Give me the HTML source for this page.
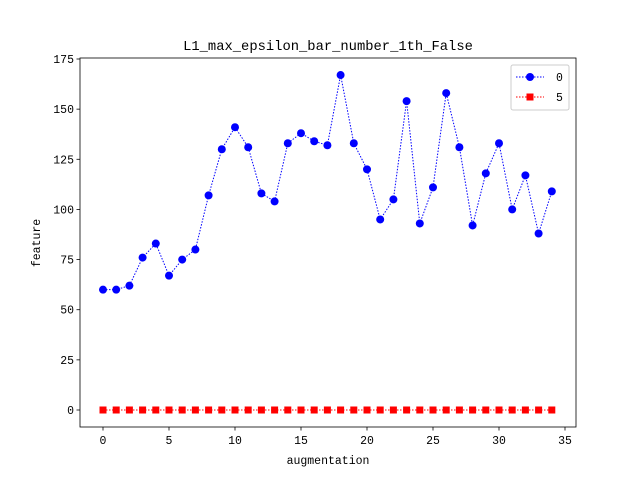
<!DOCTYPE html>
<html><head><meta charset="utf-8"><style>body{margin:0;background:#fff}svg text{font-family:"Liberation Mono","WenQuanYi Zen Hei",monospace}</style></head>
<body>
<svg id="c" width="640" height="480" xmlns="http://www.w3.org/2000/svg"></svg>
<script>
const categories=[...Array(35).keys()];
const series0=[60,60,62,76,83,67,75,80,107,130,141,131,108,104,133,138,134,132,167,133,120,95,105,154,93,111,158,131,92,118,133,100,117,88,109];
const series5=Array(35).fill(0);
const xTicks=[0,5,10,15,20,25,30,35];
const yTicks=[0,25,50,75,100,125,150,175];
const NS="http://www.w3.org/2000/svg";
const svg=document.getElementById('c');
const L=80,R=576,T=58,B=427;
const xs=v=>103+v*(565-103)/35;
const ys=v=>410-v*(410-59)/175;
function el(t,a,p){const e=document.createElementNS(NS,t);for(const k in a)e.setAttribute(k,a[k]);(p||svg).appendChild(e);return e;}
const frame=el('rect',{x:L,y:T,width:R-L,height:B-T,fill:'none',stroke:'#000','stroke-width':0.8});


xTicks.forEach(t=>{const x=xs(t);
const l=el('line',{x1:x,x2:x,y1:B,y2:B+3.5,stroke:'#000','stroke-width':0.8});


const tx=el('text',{x:x,y:B+17,'text-anchor':'middle','font-size':11.5});tx.textContent=t;

});
yTicks.forEach(t=>{const y=ys(t);
const l=el('line',{x1:L-3.5,x2:L,y1:y,y2:y,stroke:'#000','stroke-width':0.8});


const tx=el('text',{x:L-6,y:y+4,'text-anchor':'end','font-size':11.5});tx.textContent=t;

});
function draw(data,color,marker,name){
const pl=el('polyline',{points:data.map((v,i)=>xs(categories[i])+','+ys(v)).join(' '),fill:'none',stroke:color,'stroke-width':1,'stroke-dasharray':'1.5,1.5'});


data.forEach((v,i)=>{const x=xs(categories[i]),y=ys(v);let m;
if(marker==='o')m=el('circle',{cx:x,cy:y,r:4,fill:color});else m=el('rect',{x:x-3.5,y:y-3.5,width:7,height:7,fill:color});

});}
draw(series5,'#ff0000','s','series-5');
draw(series0,'#0000ff','o','series-0');
const tt=el('text',{x:328,y:50,'text-anchor':'middle','font-size':13.8});tt.textContent='L1_max_epsilon_bar_number_1th_False';


const xl=el('text',{x:328,y:464,'text-anchor':'middle','font-size':11.5});xl.textContent='augmentation';


const yl=el('text',{x:0,y:0,'text-anchor':'middle','font-size':11.5,transform:'translate(40,243) rotate(-90)'});yl.textContent='feature';


const lg=el('g',{});


el('rect',{x:511,y:65,width:58,height:45,rx:2,fill:'#fff',stroke:'#ccc','stroke-width':1},lg);
[['0','#0000ff','o',77],['5','#ff0000','s',97]].forEach(([n,c,m,y])=>{
const g=el('g',{},lg);


el('line',{x1:516,x2:544,y1:y,y2:y,stroke:c,'stroke-dasharray':'1.5,1.5'},g);
if(m==='o')el('circle',{cx:530,cy:y,r:4,fill:c},g);else el('rect',{x:526.5,y:y-3.5,width:7,height:7,fill:c},g);
const t=el('text',{x:556,y:y+4,'font-size':11.5},g);t.textContent=n;});
</script>
</body></html>
